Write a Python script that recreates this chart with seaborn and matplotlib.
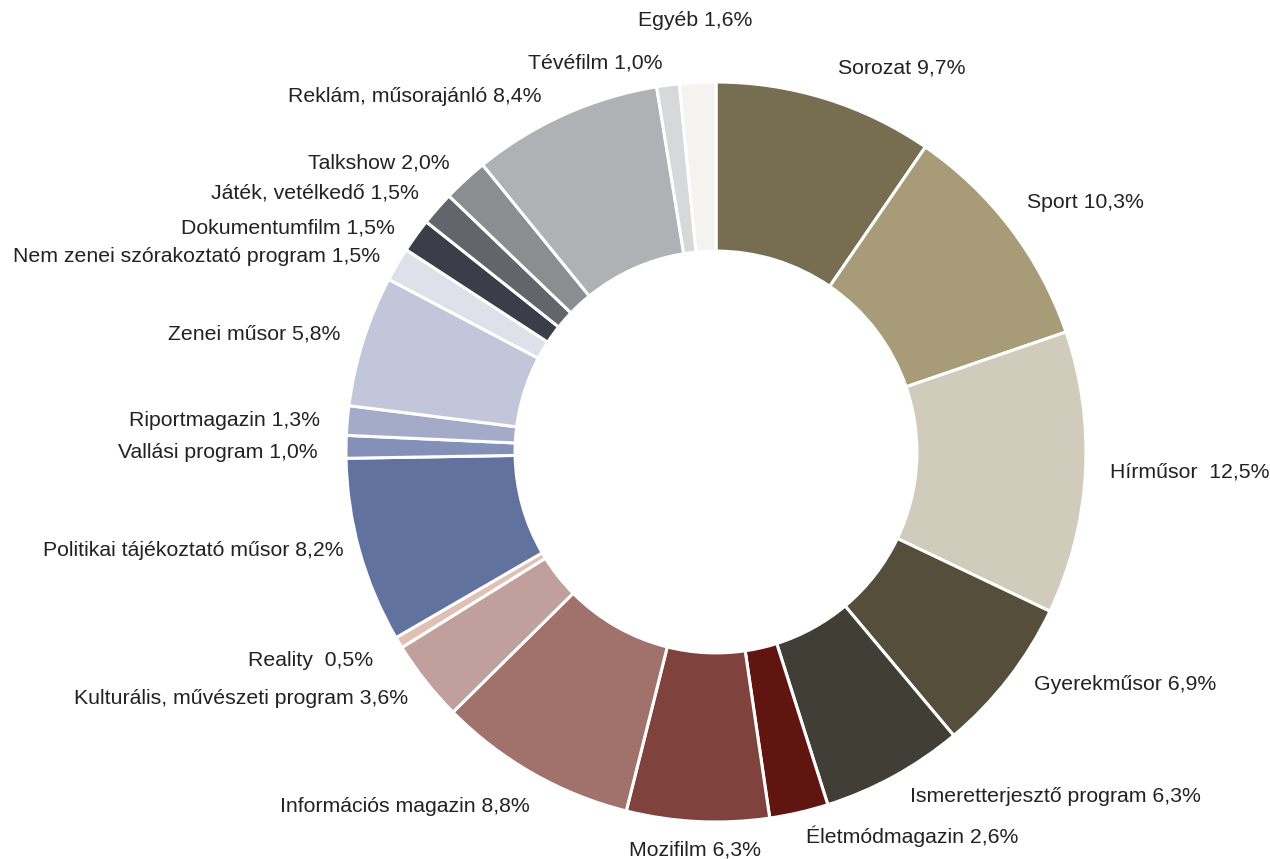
import matplotlib
matplotlib.use("Agg")
import matplotlib.pyplot as plt
import seaborn as sns

# Műsortípusok aránya
categories = [
    "Sorozat", "Sport", "Hírműsor ", "Gyerekműsor", "Ismeretterjesztő program",
    "Életmódmagazin", "Mozifilm", "Információs magazin",
    "Kulturális, művészeti program", "Reality ", "Politikai tájékoztató műsor",
    "Vallási program", "Riportmagazin", "Zenei műsor",
    "Nem zenei szórakoztató program", "Dokumentumfilm", "Játék, vetélkedő",
    "Talkshow", "Reklám, műsorajánló", "Tévéfilm", "Egyéb",
]
values = [9.7, 10.3, 12.5, 6.9, 6.3, 2.6, 6.3, 8.8, 3.6, 0.5, 8.2,
          1.0, 1.3, 5.8, 1.5, 1.5, 1.5, 2.0, 8.4, 1.0, 1.6]
colors = [
    "#776e52", "#a89c78", "#d0cbbb", "#554e3b", "#413e36",
    "#611510", "#7f423c", "#a1716c", "#c09f9c", "#e0c0b4", "#62729f",
    "#8390b8", "#a3abc8", "#c2c6da", "#dfe1ea", "#3b3e48", "#62656c",
    "#8b8d90", "#b0b1b5", "#d7d8da", "#f4f3ef",
]

# label anchors in pixels (x, y, horizontal alignment)
label_pos = [
    (838, 68, "left"), (1027, 202, "left"), (1110, 472, "left"),
    (1034, 684, "left"), (910, 797, "left"), (806, 836, "left"),
    (695, 850, "center"), (530, 806, "right"), (408, 698, "right"),
    (373, 660, "right"), (344, 551, "right"), (318, 453, "right"),
    (320, 420, "right"), (340, 334, "right"), (380, 256, "right"),
    (395, 228, "right"), (419, 193, "right"), (450, 163, "right"),
    (541, 96, "right"), (663, 63, "right"), (695, 20, "center"),
]

sns.set_style("white")
plt.rcParams["font.family"] = ["Liberation Sans", "DejaVu Sans"]

W, H = 1270, 859
cx, cy, R = 716, 452, 370
fig = plt.figure(figsize=(W / 100, H / 100), dpi=100)
ax = fig.add_axes([0, 0, 1, 1])

ax.pie(values, colors=colors, startangle=90, counterclock=False,
       radius=1.0,
       wedgeprops=dict(width=0.457, edgecolor="white", linewidth=2.2))
ax.set_xlim(-cx / R, (W - cx) / R)
ax.set_ylim(-(H - cy) / R, cy / R)
ax.set_aspect("equal")
ax.axis("off")

for name, val, (x, y, ha) in zip(categories, values, label_pos):
    txt = f"{name} {val:.1f}%".replace(".", ",")
    fig.text(x / W, 1 - y / H, txt, ha=ha, va="center",
             fontsize=15.3, color="#222222")

fig.savefig("out.png", dpi=100)
